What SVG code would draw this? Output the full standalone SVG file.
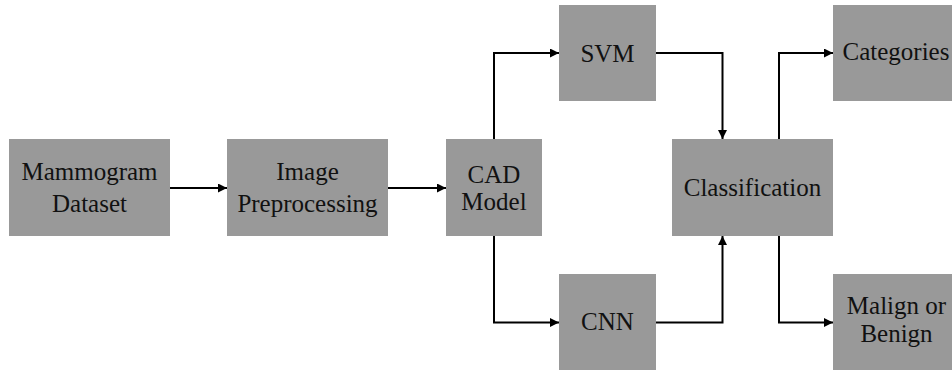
<svg xmlns="http://www.w3.org/2000/svg" width="952" height="370" viewBox="0 0 952 370">
<style>
.box{fill:#999999;stroke:none}
.lbl{font-family:"Liberation Serif","Times New Roman",serif;font-size:25px;fill:#111111;text-anchor:middle}
.conn{fill:none;stroke:#000000;stroke-width:2}
</style>
<defs>
<marker id="ah" markerUnits="userSpaceOnUse" markerWidth="10" markerHeight="10" refX="9" refY="4.5" orient="auto">
<path d="M0,0 L9,4.5 L0,9 z" fill="#000000"/>
</marker>
</defs>
<rect width="952" height="370" fill="#ffffff"/>
<g id="mammogram">
<rect class="box" x="9" y="139" width="161" height="97"/>
<text class="lbl" x="89.5" y="180">Mammogram</text>
<text class="lbl" x="89.5" y="211.5">Dataset</text>
</g>
<g id="preprocessing">
<rect class="box" x="227" y="139" width="161" height="97"/>
<text class="lbl" x="307.5" y="180">Image</text>
<text class="lbl" x="307.5" y="211.5">Preprocessing</text>
</g>
<g id="cad">
<rect class="box" x="446" y="139" width="96" height="97"/>
<text class="lbl" x="494" y="182.5">CAD</text>
<text class="lbl" x="494" y="209.5">Model</text>
</g>
<g id="svm">
<rect class="box" x="559" y="5" width="97" height="96"/>
<text class="lbl" x="607.5" y="62">SVM</text>
</g>
<g id="cnn">
<rect class="box" x="559" y="274" width="97" height="96"/>
<text class="lbl" x="607.5" y="330">CNN</text>
</g>
<g id="classification">
<rect class="box" x="672" y="139" width="161" height="97"/>
<text class="lbl" x="752.5" y="196">Classification</text>
</g>
<g id="categories">
<rect class="box" x="833" y="5" width="130" height="96"/>
<text class="lbl" x="896" y="60">Categories</text>
</g>
<g id="malign">
<rect class="box" x="833" y="274" width="130" height="96"/>
<text class="lbl" x="896.5" y="313.5">Malign or</text>
<text class="lbl" x="896.5" y="341.5">Benign</text>
</g>
<g id="connectors">
<path class="conn" d="M170,188 H227" marker-end="url(#ah)"/>
<path class="conn" d="M388,188 H446" marker-end="url(#ah)"/>
<path class="conn" d="M494,139 V53 H559" marker-end="url(#ah)"/>
<path class="conn" d="M494,236 V322.5 H559" marker-end="url(#ah)"/>
<path class="conn" d="M656,53 H722.5 V139" marker-end="url(#ah)"/>
<path class="conn" d="M656,322.5 H722.5 V236" marker-end="url(#ah)"/>
<path class="conn" d="M779,139 V53 H833" marker-end="url(#ah)"/>
<path class="conn" d="M779,236 V322.5 H833" marker-end="url(#ah)"/>
</g>
</svg>
